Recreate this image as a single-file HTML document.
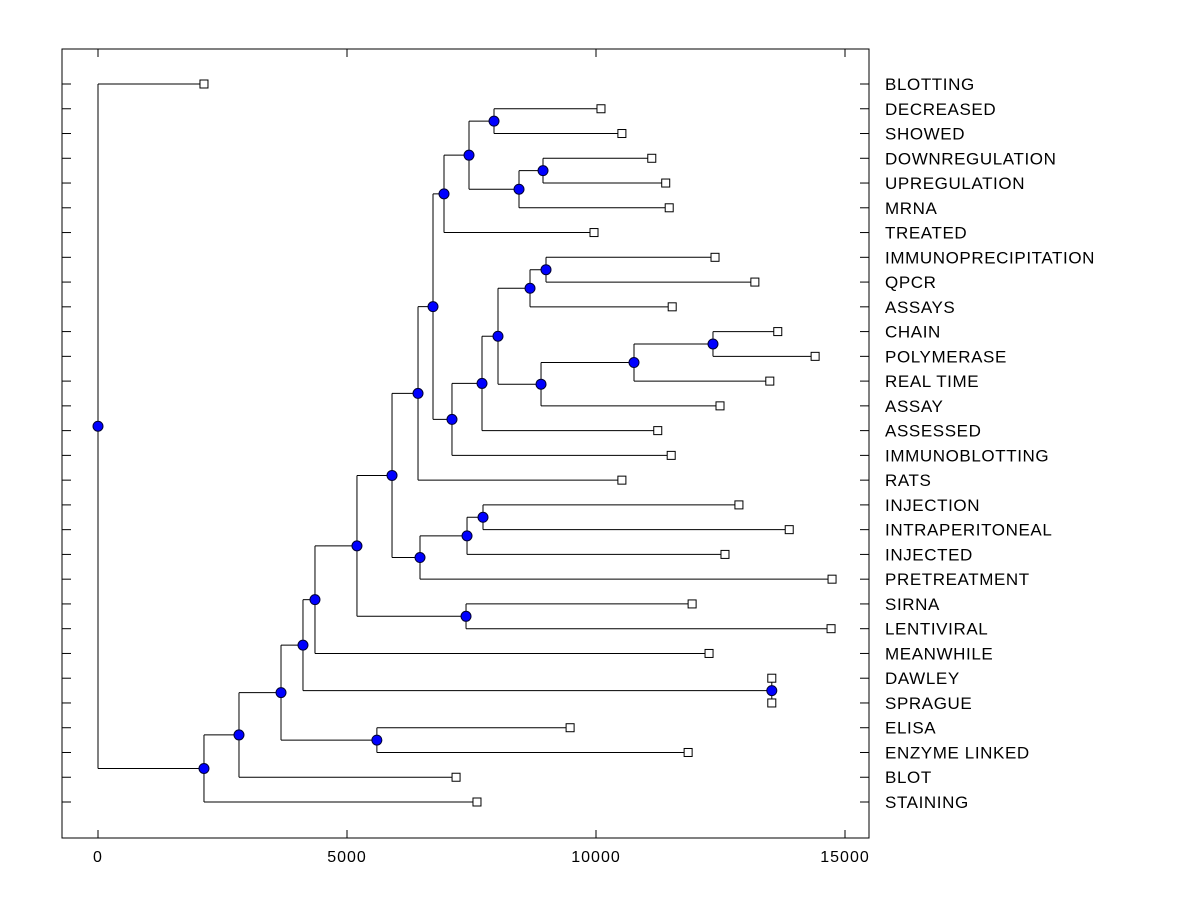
<!DOCTYPE html>
<html><head><meta charset="utf-8"><style>
body{margin:0;background:#fff}
svg{display:block;font-family:"Liberation Sans",Arial,sans-serif}
</style></head><body>
<svg id="chart" width="1200" height="900"></svg>
<script>
const leaves=["BLOTTING","DECREASED","SHOWED","DOWNREGULATION","UPREGULATION","MRNA","TREATED","IMMUNOPRECIPITATION","QPCR","ASSAYS","CHAIN","POLYMERASE","REAL TIME","ASSAY","ASSESSED","IMMUNOBLOTTING","RATS","INJECTION","INTRAPERITONEAL","INJECTED","PRETREATMENT","SIRNA","LENTIVIRAL","MEANWHILE","DAWLEY","SPRAGUE","ELISA","ENZYME LINKED","BLOT","STAINING"];
const leafValues=[2128,10100,10520,11120,11400,11470,9960,12390,13190,11530,13650,14400,13490,12490,11240,11510,10520,12870,13880,12590,14740,11930,14720,12270,13530,13530,9480,11850,7190,7610];
// merges: [id, childA, childB, height]
const mergeIds=["root","A","B","C","E","D","DS","F","G","I","H","K","L","M","J","N","O","Q","R","S","T","P","U","V","W","Y","X","Z","AA"];
const mergeLeft=["BLOTTING","B","C","D","ELISA","F","DAWLEY","G","H","SIRNA","J","L","M","INJECTION","N","O","Q","R","DECREASED","T","DOWNREGULATION","U","V","W","Y","IMMUNOPRECIPITATION","Z","AA","CHAIN"];
const mergeRight=["A","STAINING","BLOT","E","ENZYME LINKED","DS","SPRAGUE","MEANWHILE","I","LENTIVIRAL","K","PRETREATMENT","INJECTED","INTRAPERITONEAL","RATS","P","TREATED","S","SHOWED","MRNA","UPREGULATION","IMMUNOBLOTTING","ASSESSED","X","ASSAYS","QPCR","ASSAY","REAL TIME","POLYMERASE"];
const mergeHeights=[0,2128,2831,3675,5600,4116,13530,4357,5200,7390,5904,6466,7410,7731,6426,6727,6948,7450,7952,8454,8936,7108,7711,8032,8675,8996,8896,10763,12349];
const xTicks=[0,5000,10000,15000];

const L=62,T=49,R=869,B=838;
const X=v=>98+v*(845-98)/15000;
const Y=i=>84+i*(802-84)/29;
const NS="http://www.w3.org/2000/svg";
const svg=document.getElementById('chart');
function mk(t,a,p){const e=document.createElementNS(NS,t);for(const k in a)e.setAttribute(k,a[k]);(p||svg).appendChild(e);return e;}

const frame=mk('rect',{x:L,y:T,width:R-L,height:B-T,fill:'none',stroke:'#000','stroke-width':1});



xTicks.forEach(v=>{
  const x=X(v);
  mk('line',{x1:x,y1:T,x2:x,y2:T+8,stroke:'#000'});
  mk('line',{x1:x,y1:B,x2:x,y2:B-8,stroke:'#000'});
  const t=mk('text',{x:x,y:862,'text-anchor':'middle','font-size':16,'letter-spacing':1});
  t.textContent=v;
  
  
});
leaves.forEach((n,i)=>{
  const y=Y(i);
  mk('line',{x1:L,y1:y,x2:L+9,y2:y,stroke:'#000'});
  mk('line',{x1:R-9,y1:y,x2:R,y2:y,stroke:'#000'});
  const t=mk('text',{x:885,y:y+6,'font-size':17,'letter-spacing':0.6});
  t.textContent=n;
  
  
});

const pos={};
leaves.forEach((n,i)=>{pos[n]={x:X(leafValues[i]),y:Y(i),leaf:true};});
let pending=mergeIds.map((id,i)=>i);
while(pending.length){
  pending=pending.filter(i=>{
    const a=pos[mergeLeft[i]],b=pos[mergeRight[i]];
    if(!a||!b)return true;
    pos[mergeIds[i]]={x:X(mergeHeights[i]),y:(a.y+b.y)/2,a:a,b:b};
    return false;
  });
}
const gl=mk('g',{stroke:'#000','stroke-width':1,fill:'none'});


mergeIds.forEach(id=>{
  const n=pos[id];
  mk('line',{x1:n.x,y1:n.a.y,x2:n.x,y2:n.b.y},gl);
  mk('line',{x1:n.x,y1:n.a.y,x2:n.a.x,y2:n.a.y},gl);
  mk('line',{x1:n.x,y1:n.b.y,x2:n.b.x,y2:n.b.y},gl);
});
leaves.forEach(n=>{
  const p=pos[n];
  const r=mk('rect',{x:p.x-4,y:p.y-4,width:8,height:8,fill:'#fff',stroke:'#000'});
  
  
});
mergeIds.forEach(id=>{
  const p=pos[id];
  const c=mk('circle',{cx:p.x,cy:p.y,r:5,fill:'#0000ff',stroke:'#000033'});
  
  
});
</script>
</body></html>
